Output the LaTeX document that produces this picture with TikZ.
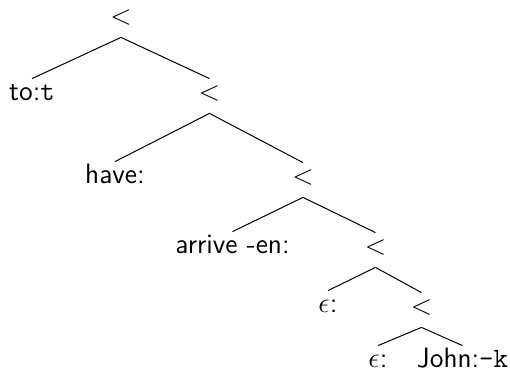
\documentclass[tikz,border=0pt]{standalone}
\begin{document}
\begin{tikzpicture}[x=0.5pt,y=-0.5pt,
  every node/.style={font=\sffamily\fontsize{14}{16}\selectfont, inner sep=0pt,
    text height=11pt, text depth=6pt, anchor=base},
  op/.style={},
  leaf/.style={},
  edge/.style={line width=0.5pt}]
\useasboundingbox (0,0) rectangle (510,374);
% operator nodes
\node[op] (n1) at (121,25) {<};
\node[op] (n2) at (209.5,101) {<};
\node[op] (n3) at (303,185) {<};
\node[op] (n4) at (375.5,255) {<};
\node[op] (n5) at (421.5,315) {<};
% leaves
\node[leaf] (l1) at (32,101) {to:\texttt{t}};
\node[leaf] (l2) at (115,184) {have:};
\node[leaf] (l3) at (232.5,254) {arrive -en:};
\node[leaf] (l4) at (328,313) {$\epsilon$:};
\node[leaf] (l5) at (378,368) {$\epsilon$:};
\node[leaf] (l6) at (462.5,368) {John:\texttt{-k}};
% edges
\draw[edge] (n1.south) -- (l1.north);
\draw[edge] (n1.south) -- (n2.north);
\draw[edge] (n2.south) -- (l2.north);
\draw[edge] (n2.south) -- (n3.north);
\draw[edge] (n3.south) -- (l3.north);
\draw[edge] (n3.south) -- (n4.north);
\draw[edge] (n4.south) -- (l4.north);
\draw[edge] (n4.south) -- (n5.north);
\draw[edge] (n5.south) -- (l5.north);
\draw[edge] (n5.south) -- (l6.north);
\end{tikzpicture}
\end{document}
